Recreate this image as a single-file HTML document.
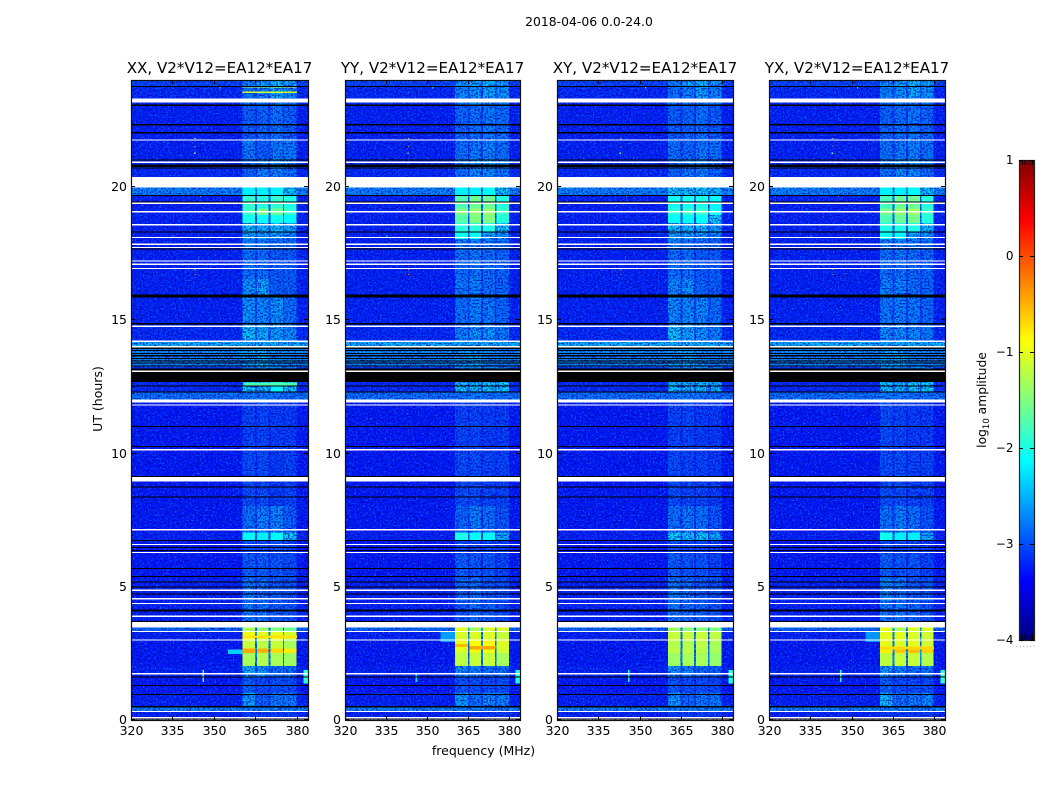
<!DOCTYPE html>
<html>
<head>
<meta charset="utf-8">
<title>2018-04-06 waterfall</title>
<style>
html,body{margin:0;padding:0;background:#fff;width:1050px;height:800px;overflow:hidden}
svg{display:block}
text{font-family:"DejaVu Sans","Liberation Sans",sans-serif;fill:#000}
</style>
</head>
<body>
<svg id="chart" xmlns="http://www.w3.org/2000/svg" width="1050" height="800" viewBox="0 0 1050 800">
<defs>
<filter id="speckle-light" x="0" y="0" width="100%" height="100%" color-interpolation-filters="sRGB">
<feTurbulence type="fractalNoise" baseFrequency="0.6" numOctaves="1" seed="4"/>
<feColorMatrix type="matrix" values="0 0 0 0 0  0 0 0 0 0.5  0 0 0 0 1  5 0 0 0 -2.6"/>
</filter>
<filter id="speckle-dark" x="0" y="0" width="100%" height="100%" color-interpolation-filters="sRGB">
<feTurbulence type="fractalNoise" baseFrequency="0.6" numOctaves="1" seed="11"/>
<feColorMatrix type="matrix" values="0 0 0 0 0  0 0 0 0 0  0 0 0 0 0.7  5 0 0 0 -2.2"/>
</filter>
</defs>
<text x="589" y="26" font-size="12.4" text-anchor="middle">2018-04-06 0.0-24.0</text>
<text x="483.5" y="755" font-size="12.5" text-anchor="middle">frequency (MHz)</text>
<text transform="translate(102,399) rotate(-90)" font-size="12.5" text-anchor="middle">UT (hours)</text>
<text transform="translate(986,400) rotate(-90)" font-size="12.3" text-anchor="middle">log<tspan font-size="8.5" dy="3">10</tspan><tspan dy="-3"> amplitude</tspan></text>
<text x="1026" y="647" font-size="7" text-anchor="middle" letter-spacing="1.2" fill="#777" style="fill:#777">......</text>
</svg>
<script>
// ---- Data ----
const panelTitles = ["XX, V2*V12=EA12*EA17", "YY, V2*V12=EA12*EA17", "XY, V2*V12=EA12*EA17", "YX, V2*V12=EA12*EA17"];
const xTickValues = [320, 335, 350, 365, 380];
const yTickValues = [0, 5, 10, 15, 20];
const colorbarTicks = [1, 0, -1, -2, -3, -4];
// frequency ranges (MHz) of the four bright sub-bands
const subBandStartMHz = [360.3, 365.6, 370.5, 375.4];
const subBandEndMHz = [364.9, 369.8, 374.9, 379.9];
// UT hour at which each amplitude segment starts
const segmentStartHours = [0, 0.30, 0.47, 1.0, 1.6, 2.0, 2.48, 2.65, 3.0, 3.3, 3.64, 4.3, 5.3, 6.2, 6.7, 7.0, 8.0, 10.0, 11.9, 12.27, 12.65, 13.2, 13.95, 14.2, 14.75, 15.9, 16.5, 17.7, 18.0, 18.27, 18.6, 18.9, 19.15, 19.65, 20.33, 20.66, 21.0, 21.7, 23.0, 23.3, 23.7];
// log10 amplitude of the band-free part of the spectrum
const backgroundLevel = [-3.2, -2.65, -3.2, -3.25, -3.2, -3.25, -3.25, -3.25, -3.2, -2.8, -3.2, -3.2, -3.25, -3.25, -3.2, -3.25, -3.25, -3.25, -2.75, -3.15, -3.1, -2.6, -2.4, -3.15, -3.2, -3.2, -3.2, -3.2, -3.2, -3.2, -3.2, -3.2, -3.2, -2.65, -3.15, -3.15, -3.2, -3.2, -3.15, -3.15, -3.0];
// log10 amplitude per segment for the four sub-bands, one table per correlation
const bandsXX = [[-3.05,-3.05,-3.05,-3.05],[-2.65,-2.65,-2.65,-2.65],[-2.5,-2.85,-2.7,-2.7],[-2.85,-2.95,-2.95,-2.95],[-2.4,-2.55,-2.75,-2.75],[-1.3,-1.25,-1.3,-1.35],[-0.45,-0.5,-0.7,-0.8],[-1.15,-1.2,-1.15,-1.3],[-0.95,-1,-1,-1.1],[-1.3,-1.4,-1.5,-1.6],[-2.7,-2.7,-2.85,-2.9],[-2.7,-2.75,-2.85,-2.9],[-2.85,-2.85,-2.9,-2.95],[-2.95,-2.95,-2.95,-3],[-2.15,-2.2,-2.15,-2.3],[-2.75,-2.65,-2.65,-2.85],[-2.95,-2.95,-3.05,-3],[-3,-3,-3.05,-3.05],[-2.7,-2.7,-2.75,-2.75],[-2.25,-2.35,-2.2,-2.25],[-2.6,-2.6,-2.6,-2.6],[-2.45,-2.35,-2.55,-2.6],[-2.4,-2.4,-2.4,-2.4],[-2.3,-2.4,-2.5,-2.6],[-2.55,-2.6,-2.55,-2.75],[-2.55,-2.45,-2.85,-2.85],[-2.75,-2.75,-2.85,-2.85],[-2.65,-2.65,-2.75,-2.75],[-2.4,-2.45,-2.45,-2.65],[-2.3,-2.35,-2.35,-2.45],[-2.05,-2.1,-2.05,-2.15],[-1.85,-1.55,-1.6,-1.9],[-1.9,-1.95,-1.9,-2],[-2.2,-2.2,-2.2,-2.3],[-2.8,-2.65,-2.65,-2.75],[-2.75,-2.65,-2.45,-2.65],[-2.7,-2.85,-2.7,-2.7],[-2.85,-2.8,-2.75,-2.85],[-2.75,-2.75,-2.65,-2.75],[-2.75,-2.65,-2.45,-2.65],[-2.65,-2.45,-2.35,-2.45]];
const bandsYY = [[-3.05,-3.05,-3.05,-3.05],[-2.65,-2.65,-2.65,-2.65],[-2.5,-2.75,-2.6,-2.65],[-2.9,-2.95,-2.95,-2.95],[-2.55,-2.65,-2.75,-2.75],[-1.2,-1.15,-1.15,-1.3],[-1.05,-0.95,-0.95,-1.1],[-0.95,-0.9,-0.9,-1.05],[-1.05,-1.05,-1.05,-1.15],[-1,-1.3,-1.05,-1.05],[-2.9,-2.75,-2.85,-2.95],[-2.8,-2.75,-2.9,-2.95],[-2.85,-2.9,-2.9,-3],[-2.95,-3,-3,-3.05],[-2,-2.1,-2.15,-2.4],[-2.8,-2.65,-2.75,-2.9],[-2.95,-2.95,-3,-3],[-3,-3,-3.05,-3.05],[-2.75,-2.7,-2.75,-2.75],[-2.3,-2.35,-2.25,-2.25],[-2.6,-2.6,-2.6,-2.6],[-2.5,-2.4,-2.6,-2.65],[-2.4,-2.4,-2.4,-2.4],[-2.65,-2.55,-2.55,-2.7],[-2.75,-2.65,-2.7,-2.8],[-2.7,-2.65,-2.75,-2.8],[-2.75,-2.7,-2.75,-2.8],[-2.65,-2.65,-2.7,-2.75],[-2.05,-2.1,-2.45,-2.55],[-1.95,-1.95,-2,-2.25],[-1.7,-1.5,-1.5,-1.95],[-1.5,-1.4,-1.4,-1.85],[-1.75,-1.6,-1.6,-1.95],[-2.2,-2.2,-2.15,-2.3],[-2.75,-2.6,-2.6,-2.7],[-2.6,-2.55,-2.5,-2.6],[-2.75,-2.7,-2.65,-2.75],[-2.8,-2.75,-2.7,-2.75],[-2.65,-2.65,-2.6,-2.7],[-2.6,-2.55,-2.45,-2.55],[-2.55,-2.45,-2.35,-2.45]];
const bandsXY = [[-3.05,-3.05,-3.05,-3.05],[-2.65,-2.65,-2.65,-2.65],[-2.55,-2.8,-2.7,-2.7],[-2.9,-2.95,-2.95,-3],[-2.55,-2.65,-2.75,-2.8],[-1.35,-1.3,-1.3,-1.4],[-1.2,-1.2,-1.25,-1.3],[-1.25,-1.25,-1.2,-1.3],[-1.15,-1.15,-1.15,-1.2],[-1.35,-1.45,-1.45,-1.5],[-2.7,-2.75,-2.8,-2.9],[-2.7,-2.75,-2.85,-2.9],[-2.85,-2.9,-2.9,-3],[-2.95,-3,-3,-3.05],[-2.25,-2.3,-2.3,-2.45],[-2.75,-2.7,-2.75,-2.9],[-2.95,-3,-3,-3.05],[-3,-3,-3.05,-3.05],[-2.7,-2.7,-2.75,-2.75],[-2.3,-2.35,-2.3,-2.4],[-2.6,-2.6,-2.6,-2.6],[-2.5,-2.4,-2.55,-2.65],[-2.4,-2.4,-2.4,-2.4],[-2.3,-2.45,-2.55,-2.65],[-2.6,-2.6,-2.6,-2.75],[-2.6,-2.55,-2.8,-2.85],[-2.75,-2.75,-2.85,-2.85],[-2.65,-2.7,-2.75,-2.8],[-2.4,-2.45,-2.5,-2.65],[-2.25,-2.35,-2.35,-2.5],[-2.1,-2.15,-2.1,-2.25],[-1.95,-1.85,-1.85,-2.05],[-2.05,-2.05,-2,-2.15],[-2.25,-2.25,-2.25,-2.35],[-2.8,-2.7,-2.65,-2.8],[-2.75,-2.65,-2.55,-2.7],[-2.75,-2.8,-2.7,-2.75],[-2.85,-2.8,-2.75,-2.85],[-2.75,-2.75,-2.65,-2.75],[-2.75,-2.65,-2.5,-2.65],[-2.65,-2.45,-2.4,-2.5]];
const bandsYX = [[-3.05,-3.05,-3.05,-3.05],[-2.65,-2.65,-2.65,-2.65],[-2.35,-2.75,-2.65,-2.6],[-2.85,-2.95,-2.95,-2.95],[-2.5,-2.65,-2.75,-2.75],[-1.2,-1.15,-1.15,-1.25],[-0.8,-0.6,-0.55,-0.65],[-1,-1.05,-1,-1.1],[-1,-1,-1.05,-1.1],[-1,-1.3,-1.05,-1.05],[-2.7,-2.7,-2.8,-2.9],[-2.65,-2.7,-2.85,-2.9],[-2.85,-2.9,-2.9,-3],[-2.95,-3,-3,-3.05],[-2.05,-2.2,-2.2,-2.4],[-2.75,-2.65,-2.75,-2.9],[-2.95,-2.95,-3,-3],[-2.95,-3,-3.05,-3.05],[-2.7,-2.7,-2.75,-2.75],[-2.3,-2.35,-2.25,-2.25],[-2.6,-2.6,-2.6,-2.6],[-2.45,-2.4,-2.6,-2.65],[-2.4,-2.4,-2.4,-2.4],[-2.6,-2.55,-2.6,-2.7],[-2.7,-2.65,-2.7,-2.8],[-2.65,-2.65,-2.75,-2.8],[-2.75,-2.7,-2.75,-2.8],[-2.65,-2.65,-2.7,-2.75],[-2.1,-2.15,-2.45,-2.55],[-2,-2,-2,-2.25],[-1.75,-1.6,-1.55,-1.95],[-1.55,-1.4,-1.35,-1.85],[-1.8,-1.6,-1.6,-1.95],[-2.2,-2.2,-2.15,-2.3],[-2.75,-2.6,-2.6,-2.75],[-2.65,-2.55,-2.5,-2.65],[-2.75,-2.7,-2.65,-2.75],[-2.8,-2.75,-2.7,-2.8],[-2.7,-2.7,-2.6,-2.7],[-2.65,-2.55,-2.45,-2.55],[-2.6,-2.45,-2.35,-2.45]];
// Localised features (MHz range, UT range, log10 amplitude, panel index)
const featureStartMHz = [345.8, 382.4, 355, 360.3, 360.3, 360.3, 361, 365.6, 360.3, 345.8, 382.4, 345.8, 382.4, 345.8, 382.4, 355, 360.3, 355];
const featureEndMHz = [346.4, 384, 360.3, 380, 380, 380, 380, 375, 364.9, 346.4, 384, 346.4, 384, 346.4, 384, 360.3, 380, 360.3];
const featureStartHour = [1.4, 1.35, 2.45, 3.05, 23.47, 23.68, 12.5, 2.62, 2.72, 1.4, 1.35, 1.4, 1.35, 1.4, 1.35, 2.9, 2.62, 2.9];
const featureEndHour = [1.85, 1.85, 2.62, 3.14, 23.54, 23.73, 12.62, 2.74, 2.82, 1.7, 1.85, 1.85, 1.85, 1.85, 1.85, 3.3, 2.72, 3.3];
const featureLevel = [-1.7, -1.9, -2.35, -0.75, -1.1, -1.2, -1.75, -0.45, -0.55, -2.2, -2.0, -2.0, -2.0, -1.9, -1.9, -2.6, -0.7, -2.65];
const featurePanel = [0, 0, 0, 0, 0, 0, 0, 1, 1, 1, 1, 2, 2, 3, 3, 1, 3, 3];
// Isolated hot samples
const hotSampleMHz = [343, 343, 342.8, 343, 343, 352, 335, 345];
const hotSampleHour = [21.75, 21.45, 21.2, 16.85, 16.65, 23.65, 18.1, 19.6];
const hotSampleLevel = [-0.7, -0.3, -1.6, -0.4, -0.2, -1.4, -1.8, -1.0];
// Flagged integrations: white = no data, black = zero amplitude
const thinWhiteRows = [21.72, 20.88, 19.34, 19.03, 18.54, 18.06, 17.81, 17.69, 17.18, 17.06, 16.9, 14.74, 14.17, 13.97, 13.05, 11.78, 10.11, 7.11, 6.55, 6.25, 4.84, 4.52, 4.34, 3.86, 3.29, 2.97, 1.71, 0.29, 0.06];
const wideWhiteStart = [23.13, 19.94, 11.88, 8.92, 3.45];
const wideWhiteEnd = [23.28, 20.33, 11.99, 9.08, 3.64];
const thinBlackRows = [23.73, 23.02, 22.29, 21.99, 20.96, 20.66, 19.64, 19.39, 18.27, 17.63, 14.83, 13.91, 13.82, 13.72, 13.63, 13.53, 13.44, 13.35, 13.25, 12.5, 12.27, 10.97, 10.22, 9.1, 8.71, 8.33, 6.7, 6.44, 6.33, 5.65, 5.35, 5.15, 4.96, 4.7, 3.67, 1.59, 1.26, 0.93];
const wideBlackStart = [20.71, 15.81, 12.65, 4.05, 0.44, 0];
const wideBlackEnd = [20.80, 15.93, 13.16, 4.11, 0.49, 0.03];

// ---- Layout and axes ----
const SVGNS = "http://www.w3.org/2000/svg";
const svg = document.getElementById("chart");
const panelBoxes = [{l: 131, r: 308}, {l: 345, r: 520}, {l: 557, r: 733}, {l: 769, r: 945}];
const panelBands = [bandsXX, bandsYY, bandsXY, bandsYX];
const xMin = 320, xMax = 384, yMaxHour = 23.96, plotTop = 80, plotBottom = 720, zeroY = 719.3, pxPerHour = 26.675;
const cbarLeft = 1019, cbarRight = 1034, cbarTop = 160, cbarBottom = 640, cbarMin = -4, cbarMax = 1;
const smoothAbove = -2.25;

function yScale(h) { return zeroY - h * pxPerHour; }
function xScale(box, f) { return box.l + (f - xMin) / (xMax - xMin) * (box.r - box.l); }
function cbarScale(v) { return cbarBottom - (v - cbarMin) / (cbarMax - cbarMin) * (cbarBottom - cbarTop); }
function jet(v) {
  const t = Math.max(0, Math.min(1, (v - cbarMin) / (cbarMax - cbarMin)));
  const r = Math.max(0, Math.min(1, 1.5 - Math.abs(4 * t - 3)));
  const g = Math.max(0, Math.min(1, 1.5 - Math.abs(4 * t - 2)));
  const b = Math.max(0, Math.min(1, 1.5 - Math.abs(4 * t - 1)));
  return "rgb(" + Math.round(r * 255) + "," + Math.round(g * 255) + "," + Math.round(b * 255) + ")";
}
function make(tag, parent) {
  const el = document.createElementNS(SVGNS, tag);
  parent.appendChild(el);
  return el;
}
function cell(parent, f0, f1, h0, h1, box, fill) {
  const el = make("rect", parent);
  const x0 = xScale(box, f0), x1 = xScale(box, f1), y0 = yScale(Math.min(h1, yMaxHour)), y1 = yScale(h0);
  el.setAttribute("x", x0.toFixed(2));
  el.setAttribute("y", y0.toFixed(2));
  el.setAttribute("width", (x1 - x0).toFixed(2));
  el.setAttribute("height", (y1 - y0).toFixed(2));
  el.setAttribute("fill", fill);
  el.setAttribute("shape-rendering", "crispEdges");
  return el;
}
function tickLine(parent, x1, y1, x2, y2) {
  const el = make("line", parent);
  el.setAttribute("x1", x1);
  el.setAttribute("y1", y1);
  el.setAttribute("x2", x2);
  el.setAttribute("y2", y2);
  el.setAttribute("stroke", "#000");
  el.setAttribute("stroke-width", "1");
  el.setAttribute("shape-rendering", "crispEdges");
  return el;
}
const codes = ["xx", "yy", "xy", "yx"];

panelBoxes.forEach(function (box, p) {
  const g = make("g", svg);
  
  
  const bands = panelBands[p];

  // heatmap cells: faint cells sit under the speckle, bright cells above it
  const cells = make("g", g);
  
  
  const brightCells = make("g", g);
  
  
  segmentStartHours.forEach(function (start, s) {
    const end = s + 1 < segmentStartHours.length ? segmentStartHours[s + 1] : 24;
    const bg = backgroundLevel[s];
    const row = bands[s];
    let prevEdge = xMin;
    subBandStartMHz.forEach(function (bandStart, b) {
      const gapValue = b === 0 ? bg : bg + 0.3 * (Math.max(row[b - 1], row[b]) - bg);
      const gapCell = cell(gapValue > smoothAbove ? brightCells : cells, prevEdge, bandStart, start, end, box, jet(gapValue));
      
      
      const bandCell = cell(row[b] > smoothAbove ? brightCells : cells, bandStart, subBandEndMHz[b], start, end, box, jet(row[b]));
      
      
      prevEdge = subBandEndMHz[b];
    });
    const tailCell = cell(cells, prevEdge, xMax, start, end, box, jet(bg));
    
    
  });
  featureLevel.forEach(function (lvl, i) {
    if (featurePanel[i] !== p) return;
    const fc = cell(brightCells, featureStartMHz[i], featureEndMHz[i], featureStartHour[i], featureEndHour[i], box, jet(lvl));
    
    
  });

  // fine speckle texture (decorative receiver noise)
  ["speckle-light", "speckle-dark"].forEach(function (id) {
    const tex = make("rect", g);
    tex.setAttribute("x", box.l);
    tex.setAttribute("y", plotTop);
    tex.setAttribute("width", box.r - box.l);
    tex.setAttribute("height", plotBottom - plotTop);
    tex.setAttribute("filter", "url(#" + id + ")");
    tex.setAttribute("opacity", "0.7");
    
    
  });
  g.appendChild(brightCells);

  hotSampleLevel.forEach(function (lvl, i) {
    const hs = cell(g, hotSampleMHz[i], hotSampleMHz[i] + 0.45, hotSampleHour[i], hotSampleHour[i] + 0.045, box, jet(lvl));
    
    
  });

  // flagged rows
  thinWhiteRows.forEach(function (h) {
    const r = cell(g, xMin, xMax, h - 0.025, h + 0.025, box, "#fff");
    
    
  });
  wideWhiteStart.forEach(function (h, i) {
    const r = cell(g, xMin, xMax, h, wideWhiteEnd[i], box, "#fff");
    
    
  });
  thinBlackRows.forEach(function (h) {
    const r = cell(g, xMin, xMax, h - 0.02, h + 0.02, box, "#000");
    
    
  });
  wideBlackStart.forEach(function (h, i) {
    const r = cell(g, xMin, xMax, h, wideBlackEnd[i], box, "#000");
    
    
  });
  const nestedWhite = cell(g, xMin, xMax, 13.02, 13.08, box, "#fff");
  
  

  // frame
  const frame = make("rect", g);
  frame.setAttribute("x", box.l + 0.5);
  frame.setAttribute("y", plotTop + 0.5);
  frame.setAttribute("width", box.r - box.l);
  frame.setAttribute("height", plotBottom - plotTop);
  frame.setAttribute("fill", "none");
  frame.setAttribute("stroke", "#111");
  frame.setAttribute("stroke-width", "1.2");
  
  

  // ticks and labels
  xTickValues.forEach(function (v) {
    const x = Math.round(xScale(box, v)) + 0.5;
    const t1 = tickLine(g, x, plotBottom, x, plotBottom - 4);
    
    
    const t2 = tickLine(g, x, plotTop, x, plotTop + 4);
    
    
    const lab = make("text", g);
    lab.setAttribute("x", x);
    lab.setAttribute("y", 735);
    lab.setAttribute("font-size", "12.5");
    lab.setAttribute("text-anchor", "middle");
    lab.textContent = v;
    
    
  });
  yTickValues.forEach(function (v) {
    const y = Math.round(yScale(v)) + 0.5;
    const t1 = tickLine(g, box.l, y, box.l + 4, y);
    
    
    const t2 = tickLine(g, box.r, y, box.r - 4, y);
    
    
    const lab = make("text", g);
    lab.setAttribute("x", box.l - 4);
    lab.setAttribute("y", y + 4.5);
    lab.setAttribute("font-size", "12.5");
    lab.setAttribute("text-anchor", "end");
    lab.textContent = v;
    
    
  });
  const title = make("text", g);
  title.setAttribute("x", (box.l + box.r) / 2);
  title.setAttribute("y", 73);
  title.setAttribute("font-size", "15.1");
  title.setAttribute("text-anchor", "middle");
  title.textContent = panelTitles[p];
  
  
});

// ---- Colorbar ----
const cbar = make("g", svg);


for (let i = 0; i < 240; i++) {
  const v0 = cbarMin + (cbarMax - cbarMin) * i / 240;
  const v1 = cbarMin + (cbarMax - cbarMin) * (i + 1) / 240;
  const seg = make("rect", cbar);
  seg.setAttribute("x", cbarLeft);
  seg.setAttribute("y", cbarScale(v1));
  seg.setAttribute("width", cbarRight - cbarLeft);
  seg.setAttribute("height", cbarScale(v0) - cbarScale(v1) + 0.3);
  seg.setAttribute("fill", jet((v0 + v1) / 2));
  
  
}
const cbarFrame = make("rect", cbar);
cbarFrame.setAttribute("x", cbarLeft + 0.5);
cbarFrame.setAttribute("y", cbarTop + 0.5);
cbarFrame.setAttribute("width", cbarRight - cbarLeft);
cbarFrame.setAttribute("height", cbarBottom - cbarTop);
cbarFrame.setAttribute("fill", "none");
cbarFrame.setAttribute("stroke", "#222");
cbarFrame.setAttribute("stroke-width", "1.2");


colorbarTicks.forEach(function (v) {
  const y = Math.round(cbarScale(v)) + 0.5;
  const t1 = tickLine(cbar, cbarLeft, y, cbarLeft + 4, y);
  
  
  const t2 = tickLine(cbar, cbarRight, y, cbarRight - 4, y);
  
  
  const lab = make("text", cbar);
  lab.setAttribute("x", 1013.5);
  lab.setAttribute("y", y + 3.5);
  lab.setAttribute("font-size", "12");
  lab.setAttribute("text-anchor", "end");
  lab.textContent = v < 0 ? "\u2212" + Math.abs(v) : String(v);
  
  
});
[0, 1, 2, 3, 4].forEach(function (i) {
  const x = cbarLeft + 3.5 + i * 2.5;
  const a = tickLine(cbar, x, cbarTop, x, cbarTop + 5);
  
  
  const c = tickLine(cbar, x, cbarBottom, x, cbarBottom - 5);
  
  
});
</script>
</body>
</html>
